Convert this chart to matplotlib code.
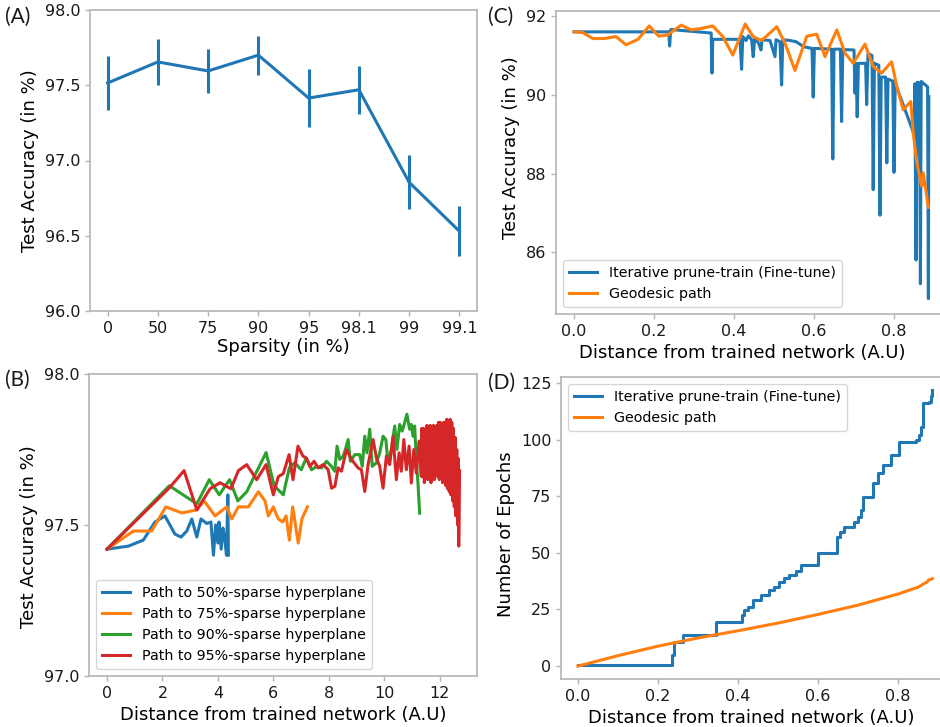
import numpy as np
import matplotlib
matplotlib.use('Agg')
import matplotlib.pyplot as plt

# (A) test accuracy vs sparsity
sparsity_labels = ['0', '50', '75', '90', '95', '98.1', '99', '99.1']
acc_mean = [97.515, 97.655, 97.595, 97.70, 97.415, 97.47, 96.855, 96.53]
acc_err = [0.18, 0.155, 0.145, 0.13, 0.195, 0.16, 0.18, 0.165]

# (B) paths to sparse hyperplanes
b50_x = [0, 0.77, 1.31, 1.73, 2.09, 2.45, 2.67, 2.88, 3.06, 3.24, 3.39, 3.60, 3.75, 3.84,
         3.92, 4.00, 4.04, 4.12, 4.18, 4.24, 4.31, 4.36, 4.38]
b50_y = [97.42, 97.43, 97.45, 97.51, 97.53, 97.47, 97.46, 97.48, 97.52, 97.46, 97.52, 97.505,
         97.51, 97.40, 97.50, 97.44, 97.51, 97.42, 97.49, 97.46, 97.40, 97.60, 97.40]

b75_x = [0, 0.95, 1.61, 2.12, 2.70, 3.24, 3.50, 3.90, 4.32, 4.50, 4.74, 5.10, 5.46, 5.70,
         5.82, 6.00, 6.18, 6.34, 6.46, 6.58, 6.70, 6.90, 7.03, 7.23]
b75_y = [97.42, 97.48, 97.48, 97.56, 97.54, 97.55, 97.58, 97.53, 97.56, 97.52, 97.56, 97.56,
         97.61, 97.58, 97.53, 97.56, 97.52, 97.51, 97.53, 97.45, 97.56, 97.44, 97.52, 97.56]

b90_x = [0, 2.25, 3.24, 3.69, 4.05, 4.42, 4.72, 5.04, 5.74, 6.03, 6.36, 6.58, 6.77, 7.01,
         7.19, 7.38, 7.56, 7.74, 7.92, 8.10, 8.22, 8.30, 8.40, 8.52, 8.60, 8.70, 8.78, 8.94,
         9.12, 9.21, 9.30, 9.38, 9.48, 9.57, 9.72, 9.84, 9.96, 10.06, 10.14, 10.26, 10.38,
         10.46, 10.56, 10.65, 10.74, 10.82, 10.92, 10.98, 11.04, 11.10, 11.16, 11.22, 11.28]
b90_y = [97.42, 97.63, 97.57, 97.65, 97.60, 97.65, 97.58, 97.61, 97.74, 97.63, 97.60, 97.69,
         97.706, 97.683, 97.722, 97.683, 97.694, 97.689, 97.711, 97.694, 97.678, 97.761,
         97.717, 97.728, 97.75, 97.783, 97.711, 97.733, 97.733, 97.694, 97.794, 97.739,
         97.817, 97.694, 97.706, 97.739, 97.794, 97.783, 97.706, 97.75, 97.828, 97.75,
         97.833, 97.811, 97.839, 97.867, 97.817, 97.833, 97.794, 97.828, 97.717, 97.639,
         97.539]

b95_x = [0, 2.27, 2.78, 3.24, 3.72, 4.08, 4.47, 4.74, 5.04, 5.40, 5.74, 6.00, 6.18, 6.36,
         6.57, 6.71, 6.89, 7.07, 7.19, 7.32, 7.47, 7.62, 7.80, 7.98, 8.10, 8.22, 8.34, 8.46,
         8.64, 8.82, 9.06, 9.18, 9.30, 9.42, 9.60, 9.72, 9.84, 9.96, 10.08, 10.20, 10.32,
         10.44, 10.54, 10.62, 10.71, 10.80, 10.90, 10.98, 11.07, 11.16, 11.26, 11.34,
         11.36, 11.39, 11.42, 11.45, 11.48, 11.51, 11.54, 11.57, 11.60, 11.63, 11.66, 11.69,
         11.72, 11.75, 11.78, 11.81, 11.84, 11.87, 11.90, 11.93, 11.96, 11.99, 12.02, 12.05,
         12.08, 12.11, 12.14, 12.17, 12.20, 12.23, 12.26, 12.29, 12.32, 12.35, 12.38, 12.41,
         12.44, 12.47, 12.50, 12.53, 12.56, 12.59, 12.62, 12.65, 12.68, 12.69, 12.72]
b95_y = [97.42, 97.625, 97.68, 97.55, 97.62, 97.64, 97.62, 97.68, 97.70, 97.65, 97.70, 97.60,
         97.66, 97.67, 97.733, 97.65, 97.761, 97.728, 97.722, 97.694, 97.711, 97.689, 97.70,
         97.683, 97.622, 97.628, 97.689, 97.678, 97.75, 97.717, 97.689, 97.683, 97.611,
         97.70, 97.783, 97.722, 97.694, 97.622, 97.728, 97.70, 97.794, 97.65, 97.739,
         97.678, 97.783, 97.683, 97.761, 97.639, 97.75, 97.672, 97.778, 97.661,
         97.82, 97.66, 97.82, 97.64, 97.81, 97.66, 97.83, 97.65, 97.82, 97.67, 97.83, 97.64,
         97.82, 97.66, 97.83, 97.65, 97.82, 97.67, 97.83, 97.66, 97.84, 97.65, 97.84, 97.66,
         97.83, 97.64, 97.84, 97.65, 97.84, 97.63, 97.85, 97.62, 97.84, 97.61, 97.85, 97.60,
         97.84, 97.58, 97.82, 97.56, 97.79, 97.53, 97.75, 97.50, 97.72, 97.43, 97.68]

# (C) test accuracy along the paths
c_iter_x = [0.000, 0.237, 0.239, 0.242, 0.343, 0.345, 0.347, 0.415, 0.419, 0.422, 0.430,
            0.436, 0.444, 0.448, 0.452, 0.462, 0.4675, 0.470, 0.490, 0.5025, 0.505, 0.515,
            0.519, 0.522, 0.540, 0.555, 0.575, 0.595, 0.598, 0.601, 0.644, 0.647, 0.650,
            0.666, 0.669, 0.672, 0.700, 0.7025, 0.705, 0.708, 0.711, 0.729, 0.7317, 0.735,
            0.745, 0.748, 0.751, 0.762, 0.765, 0.768, 0.779, 0.782, 0.785, 0.797, 0.800,
            0.803, 0.850, 0.852, 0.855, 0.858, 0.864, 0.866, 0.868, 0.882, 0.884, 0.886,
            0.887]
c_iter_y = [91.60, 91.60, 91.24, 91.66, 91.57, 90.55, 91.41, 91.41, 90.65, 91.48, 91.38,
            91.50, 91.40, 90.97, 91.45, 91.30, 91.14, 91.40, 91.38, 90.97, 91.40, 91.35,
            90.25, 91.40, 91.38, 91.35, 91.22, 91.18, 89.94, 91.18, 91.16, 88.37, 91.16,
            91.16, 89.32, 91.15, 91.14, 90.04, 90.80, 89.44, 90.80, 90.80, 89.75, 91.05,
            91.00, 87.59, 90.80, 90.75, 86.94, 90.45, 90.45, 88.27, 90.40, 90.35, 88.03,
            90.30, 89.00, 90.28, 85.80, 90.32, 90.30, 85.20, 90.34, 90.22, 90.20, 84.82,
            89.95]
c_geo_x = [0.0, 0.022, 0.047, 0.075, 0.105, 0.13, 0.16, 0.188, 0.212, 0.234, 0.268, 0.293,
           0.32, 0.347, 0.372, 0.397, 0.428, 0.448, 0.469, 0.507, 0.5275, 0.5525, 0.582,
           0.607, 0.6275, 0.657, 0.6775, 0.698, 0.7275, 0.748, 0.769, 0.794, 0.807, 0.823,
           0.842, 0.848, 0.857, 0.869, 0.873, 0.886]
c_geo_y = [91.60, 91.58, 91.43, 91.43, 91.48, 91.27, 91.41, 91.75, 91.49, 91.52, 91.77,
           91.65, 91.69, 91.75, 91.48, 91.01, 91.80, 91.48, 91.38, 91.73, 91.31, 90.62,
           91.49, 91.54, 90.97, 91.65, 91.06, 90.80, 91.29, 90.72, 90.55, 90.84, 90.21,
           89.62, 89.83, 89.04, 88.28, 87.68, 88.02, 87.14]

# (D) number of epochs
d_iter_x = [0.0, 0.235, 0.240, 0.262, 0.345, 0.411, 0.414, 0.424, 0.437, 0.458, 0.478,
            0.490, 0.503, 0.515, 0.528, 0.545, 0.5575, 0.599, 0.6475, 0.655, 0.666, 0.691,
            0.700, 0.7075, 0.712, 0.737, 0.749, 0.762, 0.7825, 0.803, 0.845, 0.853, 0.857,
            0.862, 0.878, 0.882, 0.884]
d_iter_y = [0.5, 5.0, 10.7, 13.7, 19.6, 22.5, 24.7, 26.2, 29.1, 31.4, 33.6, 35.0, 37.2,
            39.0, 40.2, 42.0, 44.6, 49.8, 57.1, 59.0, 61.5, 63.7, 66.0, 68.9, 74.8, 80.7,
            85.1, 88.8, 93.2, 99.1, 99.8, 102.0, 105.5, 116.0, 116.7, 119.0, 121.9]
d_geo_x = [0.0, 0.1, 0.2, 0.3, 0.4, 0.5, 0.6, 0.7, 0.8, 0.85, 0.866, 0.872, 0.876, 0.886]
d_geo_y = [0.0, 4.6, 8.8, 12.4, 15.6, 19.0, 22.8, 26.9, 31.8, 34.8, 36.5, 37.0, 37.9, 38.6]

BLUE, ORANGE, GREEN, RED = '#1f77b4', '#ff7f0e', '#2ca02c', '#d62728'
LW = 2.2
TICK_FS = 11.5
LABEL_FS = 13
LEG_FS = 10.3
SPINE = '#b4b4b4'

plt.rcParams['font.family'] = ['DejaVu Sans']

fig = plt.figure(figsize=(9.4, 7.27), dpi=100)


def style(ax):
    for s in ax.spines.values():
        s.set_color(SPINE)
        s.set_linewidth(1.2)
    ax.tick_params(colors=SPINE, labelcolor='#1a1a1a', labelsize=TICK_FS, length=3.5, width=1)


# ---- (A)
axA = fig.add_axes([90 / 940, 1 - 311 / 727, 387 / 940, 301 / 727])
pos = np.arange(len(sparsity_labels))
axA.errorbar(pos, acc_mean, yerr=acc_err, color=BLUE, lw=LW, elinewidth=LW, capsize=0)
axA.set_xticks(pos)
axA.set_xticklabels(sparsity_labels)
axA.set_xlim(-0.35, 7.35)
axA.set_ylim(96.0, 98.0)
axA.set_yticks([96.0, 96.5, 97.0, 97.5, 98.0])
axA.set_yticklabels(['96.0', '96.5', '97.0', '97.5', '98.0'])
axA.set_xlabel('Sparsity (in %)', fontsize=LABEL_FS, labelpad=2)
axA.set_ylabel('Test Accuracy (in %)', fontsize=LABEL_FS)
style(axA)

# ---- (B)
axB = fig.add_axes([89 / 940, 1 - 676 / 727, 388 / 940, 302 / 727])
axB.plot(b50_x, b50_y, color=BLUE, lw=LW, label='Path to 50%-sparse hyperplane')
axB.plot(b75_x, b75_y, color=ORANGE, lw=LW, label='Path to 75%-sparse hyperplane')
axB.plot(b90_x, b90_y, color=GREEN, lw=LW, label='Path to 90%-sparse hyperplane')
axB.plot(b95_x, b95_y, color=RED, lw=LW, label='Path to 95%-sparse hyperplane')
axB.set_xlim(-0.65, 13.35)
axB.set_ylim(97.0, 98.0)
axB.set_xticks([0, 2, 4, 6, 8, 10, 12])
axB.set_yticks([97.0, 97.5, 98.0])
axB.set_yticklabels(['97.0', '97.5', '98.0'])
axB.set_xlabel('Distance from trained network (A.U)', fontsize=LABEL_FS)
axB.set_ylabel('Test Accuracy (in %)', fontsize=LABEL_FS)
axB.yaxis.label.set_y(0.46)
axB.legend(loc='lower left', fontsize=LEG_FS)
style(axB)

# ---- (C)
axC = fig.add_axes([556 / 940, 1 - 314 / 727, 390 / 940, 303 / 727])
axC.plot(c_iter_x, c_iter_y, color=BLUE, lw=LW, label='Iterative prune-train (Fine-tune)')
axC.plot(c_geo_x, c_geo_y, color=ORANGE, lw=LW, label='Geodesic path')
axC.set_xlim(-0.045, 0.93)
axC.set_ylim(84.43, 92.13)
axC.set_xticks([0.0, 0.2, 0.4, 0.6, 0.8])
axC.set_yticks([86, 88, 90, 92])
axC.set_xlabel('Distance from trained network (A.U)', fontsize=LABEL_FS)
axC.set_ylabel('Test Accuracy (in %)', fontsize=LABEL_FS)
axC.xaxis.label.set_x(0.477)
axC.yaxis.label.set_y(0.55)
axC.legend(loc='lower left', fontsize=LEG_FS)
style(axC)

# ---- (D)
axD = fig.add_axes([561 / 940, 1 - 679 / 727, 389 / 940, 302 / 727])
axD.plot(d_iter_x, d_iter_y, color=BLUE, lw=LW, drawstyle='steps-post',
         label='Iterative prune-train (Fine-tune)')
axD.plot(d_geo_x, d_geo_y, color=ORANGE, lw=LW, label='Geodesic path')
axD.set_xlim(-0.0425, 0.93)
axD.set_ylim(-5.7, 127.6)
axD.set_xticks([0.0, 0.2, 0.4, 0.6, 0.8])
axD.set_yticks([0, 25, 50, 75, 100, 125])
axD.set_xlabel('Distance from trained network (A.U)', fontsize=LABEL_FS)
axD.set_ylabel('Number of Epochs', fontsize=LABEL_FS)
axD.xaxis.label.set_x(0.49)
axD.yaxis.label.set_y(0.48)
axD.legend(loc='upper left', fontsize=LEG_FS)
style(axD)

# panel letters
for lbl, x, y in [('(A)', 5, 17), ('(B)', 5, 380), ('(C)', 488, 17), ('(D)', 488, 383)]:
    fig.text(x / 940, 1 - y / 727, lbl, fontsize=15, family=['Lato', 'DejaVu Sans'],
             ha='left', va='center', color='#1a1a1a')

fig.savefig('out.png', dpi=100)
